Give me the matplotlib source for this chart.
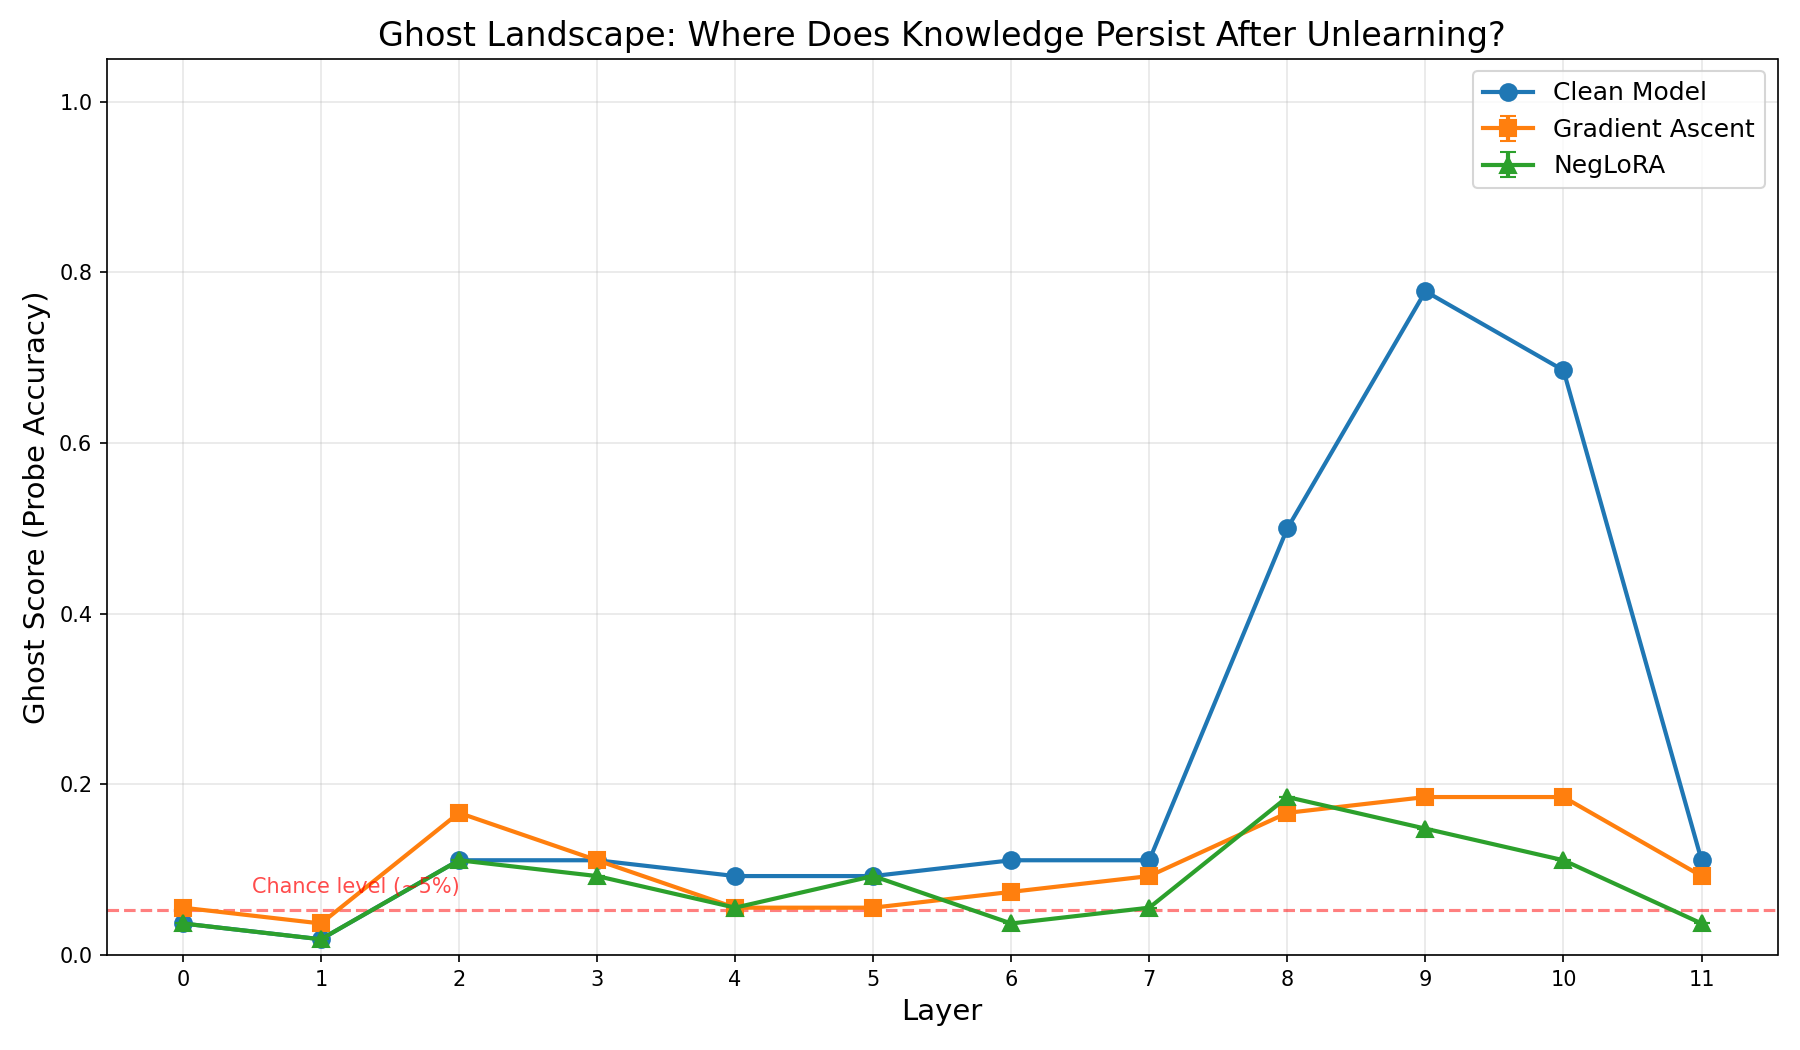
import numpy as np
import matplotlib
matplotlib.use('Agg')
import matplotlib.pyplot as plt

layers = list(range(12))
clean = [2/54, 1/54, 6/54, 6/54, 5/54, 5/54, 6/54, 6/54, 27/54, 42/54, 37/54, 6/54]
grad_ascent = [3/54, 2/54, 9/54, 6/54, 3/54, 3/54, 4/54, 5/54, 9/54, 10/54, 10/54, 5/54]
neglora = [2/54, 1/54, 6/54, 5/54, 3/54, 5/54, 2/54, 3/54, 10/54, 8/54, 6/54, 2/54]
grad_err = [0.0] * 12
neglora_err = [0.0] * 12
chance = 1 / 19

fig, ax = plt.subplots(figsize=(12, 7))
ax.plot(layers, clean, 'o-', color='#1f77b4', linewidth=2, markersize=8, label='Clean Model')
ax.errorbar(layers, grad_ascent, yerr=grad_err, fmt='s-', color='#ff7f0e', linewidth=2,
            markersize=8, capsize=4, label='Gradient Ascent')
ax.errorbar(layers, neglora, yerr=neglora_err, fmt='^-', color='#2ca02c', linewidth=2,
            markersize=8, capsize=4, label='NegLoRA')

ax.axhline(chance, color='red', linestyle='--', alpha=0.5)
ax.text(0.5, chance + 0.02, 'Chance level (~5%)', color='red', alpha=0.7, fontsize=10)

ax.set_xlabel('Layer', fontsize=14)
ax.set_ylabel('Ghost Score (Probe Accuracy)', fontsize=14)
ax.set_title('Ghost Landscape: Where Does Knowledge Persist After Unlearning?', fontsize=16)
ax.set_xticks(layers)
ax.set_ylim(0, 1.05)
ax.legend(fontsize=12, loc='upper right')
ax.grid(True, alpha=0.3)
plt.tight_layout()
plt.savefig('out.png', dpi=150)
